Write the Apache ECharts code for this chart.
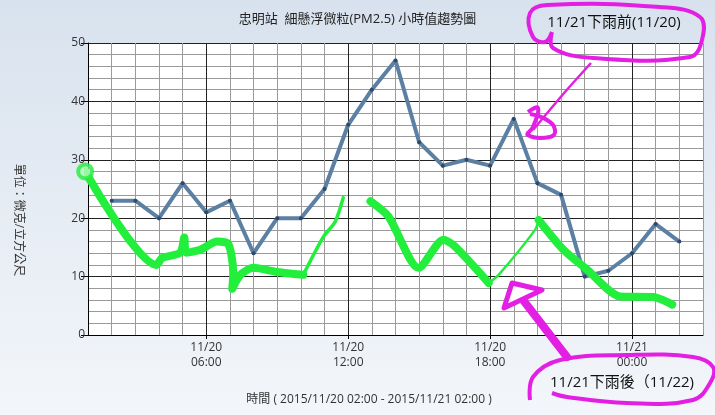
<!DOCTYPE html>
<html><head><meta charset="utf-8">
<script src="https://cdn.jsdelivr.net/npm/echarts@6/dist/echarts.min.js"></script>
<style>html,body{margin:0;padding:0;}#c{width:715px;height:415px;}</style>
</head><body><div id="c"></div>
<script>
// x categories: hourly from 11/20 01:00 to 11/21 03:00
const categories = ['11/20 01:00','11/20 02:00','11/20 03:00','11/20 04:00','11/20 05:00','11/20 06:00','11/20 07:00','11/20 08:00','11/20 09:00','11/20 10:00','11/20 11:00','11/20 12:00','11/20 13:00','11/20 14:00','11/20 15:00','11/20 16:00','11/20 17:00','11/20 18:00','11/20 19:00','11/20 20:00','11/20 21:00','11/20 22:00','11/20 23:00','11/21 00:00','11/21 01:00','11/21 02:00','11/21 03:00'];
// PM2.5 hourly values (11/20 02:00 - 11/21 02:00); null = no reading
const pm25 = [null,23,23,20,26,21,23,14,20,20,25,36,42,47,33,29,30,29,37,26,24,10,11,14,19,16,null];
const yTicks = [0,10,20,30,40,50];
const labelHours = ['06:00','12:00','18:00','00:00'];
// hand-drawn green trace, [hours after 11/20 01:00, value]
const greenA = [[-0.12,28],[2.89,12.0],[3.14,13.2],[3.9,14.1],[4.07,16.7],[4.15,14.1],[4.75,14.6],[5.46,16.0],[5.93,15.6],[6.14,10.7],[6.1,7.9],[6.44,10.3],[6.99,11.5],[8.0,10.8],[9.1,10.3]];
const greenB = [[9.1,10.3],[9.95,16.8],[10.45,19.4],[10.79,23.5]];
const greenC = [[11.94,22.9],[12.7,20.3],[13.98,11.5],[15.03,16.3],[15.5,15.2],[16.94,8.9]];
const greenD = [[16.94,8.9],[17.36,10.3],[18.9,18.0],[19.05,19.7]];
const greenE = [[19.05,19.7],[20.1,14.6],[21.1,11.2],[22.5,6.6],[23.9,6.5],[24.3,6.0],[24.7,5.2]];

const FONT = '"Open Sans","Noto Sans CJK TC",sans-serif';
const GREEN = '#22ee3c';
const MAG = '#e41fe4';
const chart = echarts.init(document.getElementById('c'));
const isLabel = (i) => labelHours.indexOf(categories[i].split(' ')[1]) >= 0;
function greenSeries(d, w){
  return {type:'line', xAxisIndex:1, data:d, symbol:'none', smooth:0.25, clip:false, z:5,
    lineStyle:{color:GREEN, width:w, cap:'round', join:'round'}, silent:true};
}
chart.setOption({
  animation:false,
  backgroundColor:{type:'linear',x:0,y:0,x2:0,y2:1,colorStops:[{offset:0,color:'#d8e2ee'},{offset:1,color:'#f3f6fa'}]},
  title:{text:'忠明站  細懸浮微粒(PM2.5) 小時值趨勢圖', left:'center', top:8,
    textStyle:{fontSize:13, fontWeight:'normal', color:'#222', fontFamily:FONT}},
  grid:{left:88, width:615, top:43, height:292, show:true, backgroundColor:'#fff', borderWidth:0},
  xAxis:[{
    type:'category', data:categories, boundaryGap:false,
    axisLine:{lineStyle:{color:'#000', width:1}},
    axisTick:{interval:(i)=>isLabel(i), length:4, lineStyle:{color:'#000'}},
    axisLabel:{interval:(i)=>isLabel(i), formatter:(v)=>v.replace(' ','\n'), color:'#333', fontSize:12, lineHeight:15, margin:5, fontFamily:FONT},
    splitLine:{show:true, interval:0, lineStyle:{color:['#9a9a9a','#9a9a9a','#9a9a9a','#9a9a9a','#9a9a9a','#222'], width:1}}
  },{
    type:'value', min:0, max:26, show:false
  }],
  yAxis:{
    type:'value', min:yTicks[0], max:yTicks[yTicks.length-1], interval:10,
    axisLine:{show:true, lineStyle:{color:'#000'}},
    axisTick:{show:true, length:7, lineStyle:{color:'#000'}},
    axisLabel:{color:'#333', fontSize:12, margin:3, fontFamily:FONT},
    splitLine:{lineStyle:{color:'#222', width:1}},
    minorTick:{show:false, splitNumber:5},
    minorSplitLine:{show:true, lineStyle:{color:'#9a9a9a', width:1}}
  },
  series:[
    {type:'line', data:pm25, symbol:'circle', symbolSize:4, z:3,
      itemStyle:{color:'#2f4966'},
      lineStyle:{color:'#5b80a4', width:4, join:'round'}},
    greenSeries(greenA, 8), greenSeries(greenB, 3.5), greenSeries(greenC, 8), greenSeries(greenD, 2.5), greenSeries(greenE, 8),
    {type:'scatter', xAxisIndex:1, data:[greenA[0]], symbol:'circle', symbolSize:14, clip:false, z:6,
      itemStyle:{color:'#b6f7bf', borderColor:GREEN, borderWidth:4}}
  ],
  graphic:[
    {type:'text', left:null, x:18, y:220, rotation:-Math.PI/2, z:50,
      style:{text:'單位：微克/立方公尺', font:'12px '+FONT, fill:'#333', align:'center', verticalAlign:'middle'}},
    {type:'text', x:369, y:400, z:50,
      style:{text:'時間 ( 2015/11/20 02:00 - 2015/11/21 02:00 )', font:'12px '+FONT, fill:'#333', align:'center', verticalAlign:'middle'}},
    {type:'text', x:614, y:23, z:60,
      style:{text:'11/21下雨前(11/20)', font:'15px '+FONT, fill:'#111', align:'center', verticalAlign:'middle'}},
    {type:'text', x:622, y:383, z:60,
      style:{text:'11/21下雨後（11/22)', font:'15px '+FONT, fill:'#111', align:'center', verticalAlign:'middle'}},
    {type:'polyline', z:55, shape:{smooth:0.4, points:[[552,32],[553,48],[593,58],[690,57],[702,40],[700,17],[660,7],[547,5],[530,13],[533,37],[545,42],[552,32]]},
      style:{stroke:MAG, lineWidth:4, fill:null}},
    {type:'polyline', z:55, shape:{smooth:0.2, points:[[591,63],[565,92],[533,130]]},
      style:{stroke:MAG, lineWidth:2.5, fill:null}},
    {type:'polyline', z:55, shape:{smooth:0.5, points:[[528,112],[538,108],[533,127],[528,135],[550,137],[555,130],[547,120],[530,114]]},
      style:{stroke:MAG, lineWidth:4, fill:null}},
    {type:'polyline', z:55, shape:{smooth:0.4, points:[[552,393],[567,397],[627,403],[693,400],[710,383],[713,367],[693,357],[627,355],[560,360],[533,377],[530,400]]},
      style:{stroke:MAG, lineWidth:4, fill:null}},
    {type:'polyline', z:55, shape:{points:[[567,357],[520,296]]},
      style:{stroke:MAG, lineWidth:8, fill:null, lineCap:'round'}},
    {type:'polygon', z:55, shape:{points:[[512,283],[542,290],[504,308]]},
      style:{stroke:MAG, lineWidth:5, fill:'#fff', lineJoin:'round'}}
  ]
});
</script></body></html>
